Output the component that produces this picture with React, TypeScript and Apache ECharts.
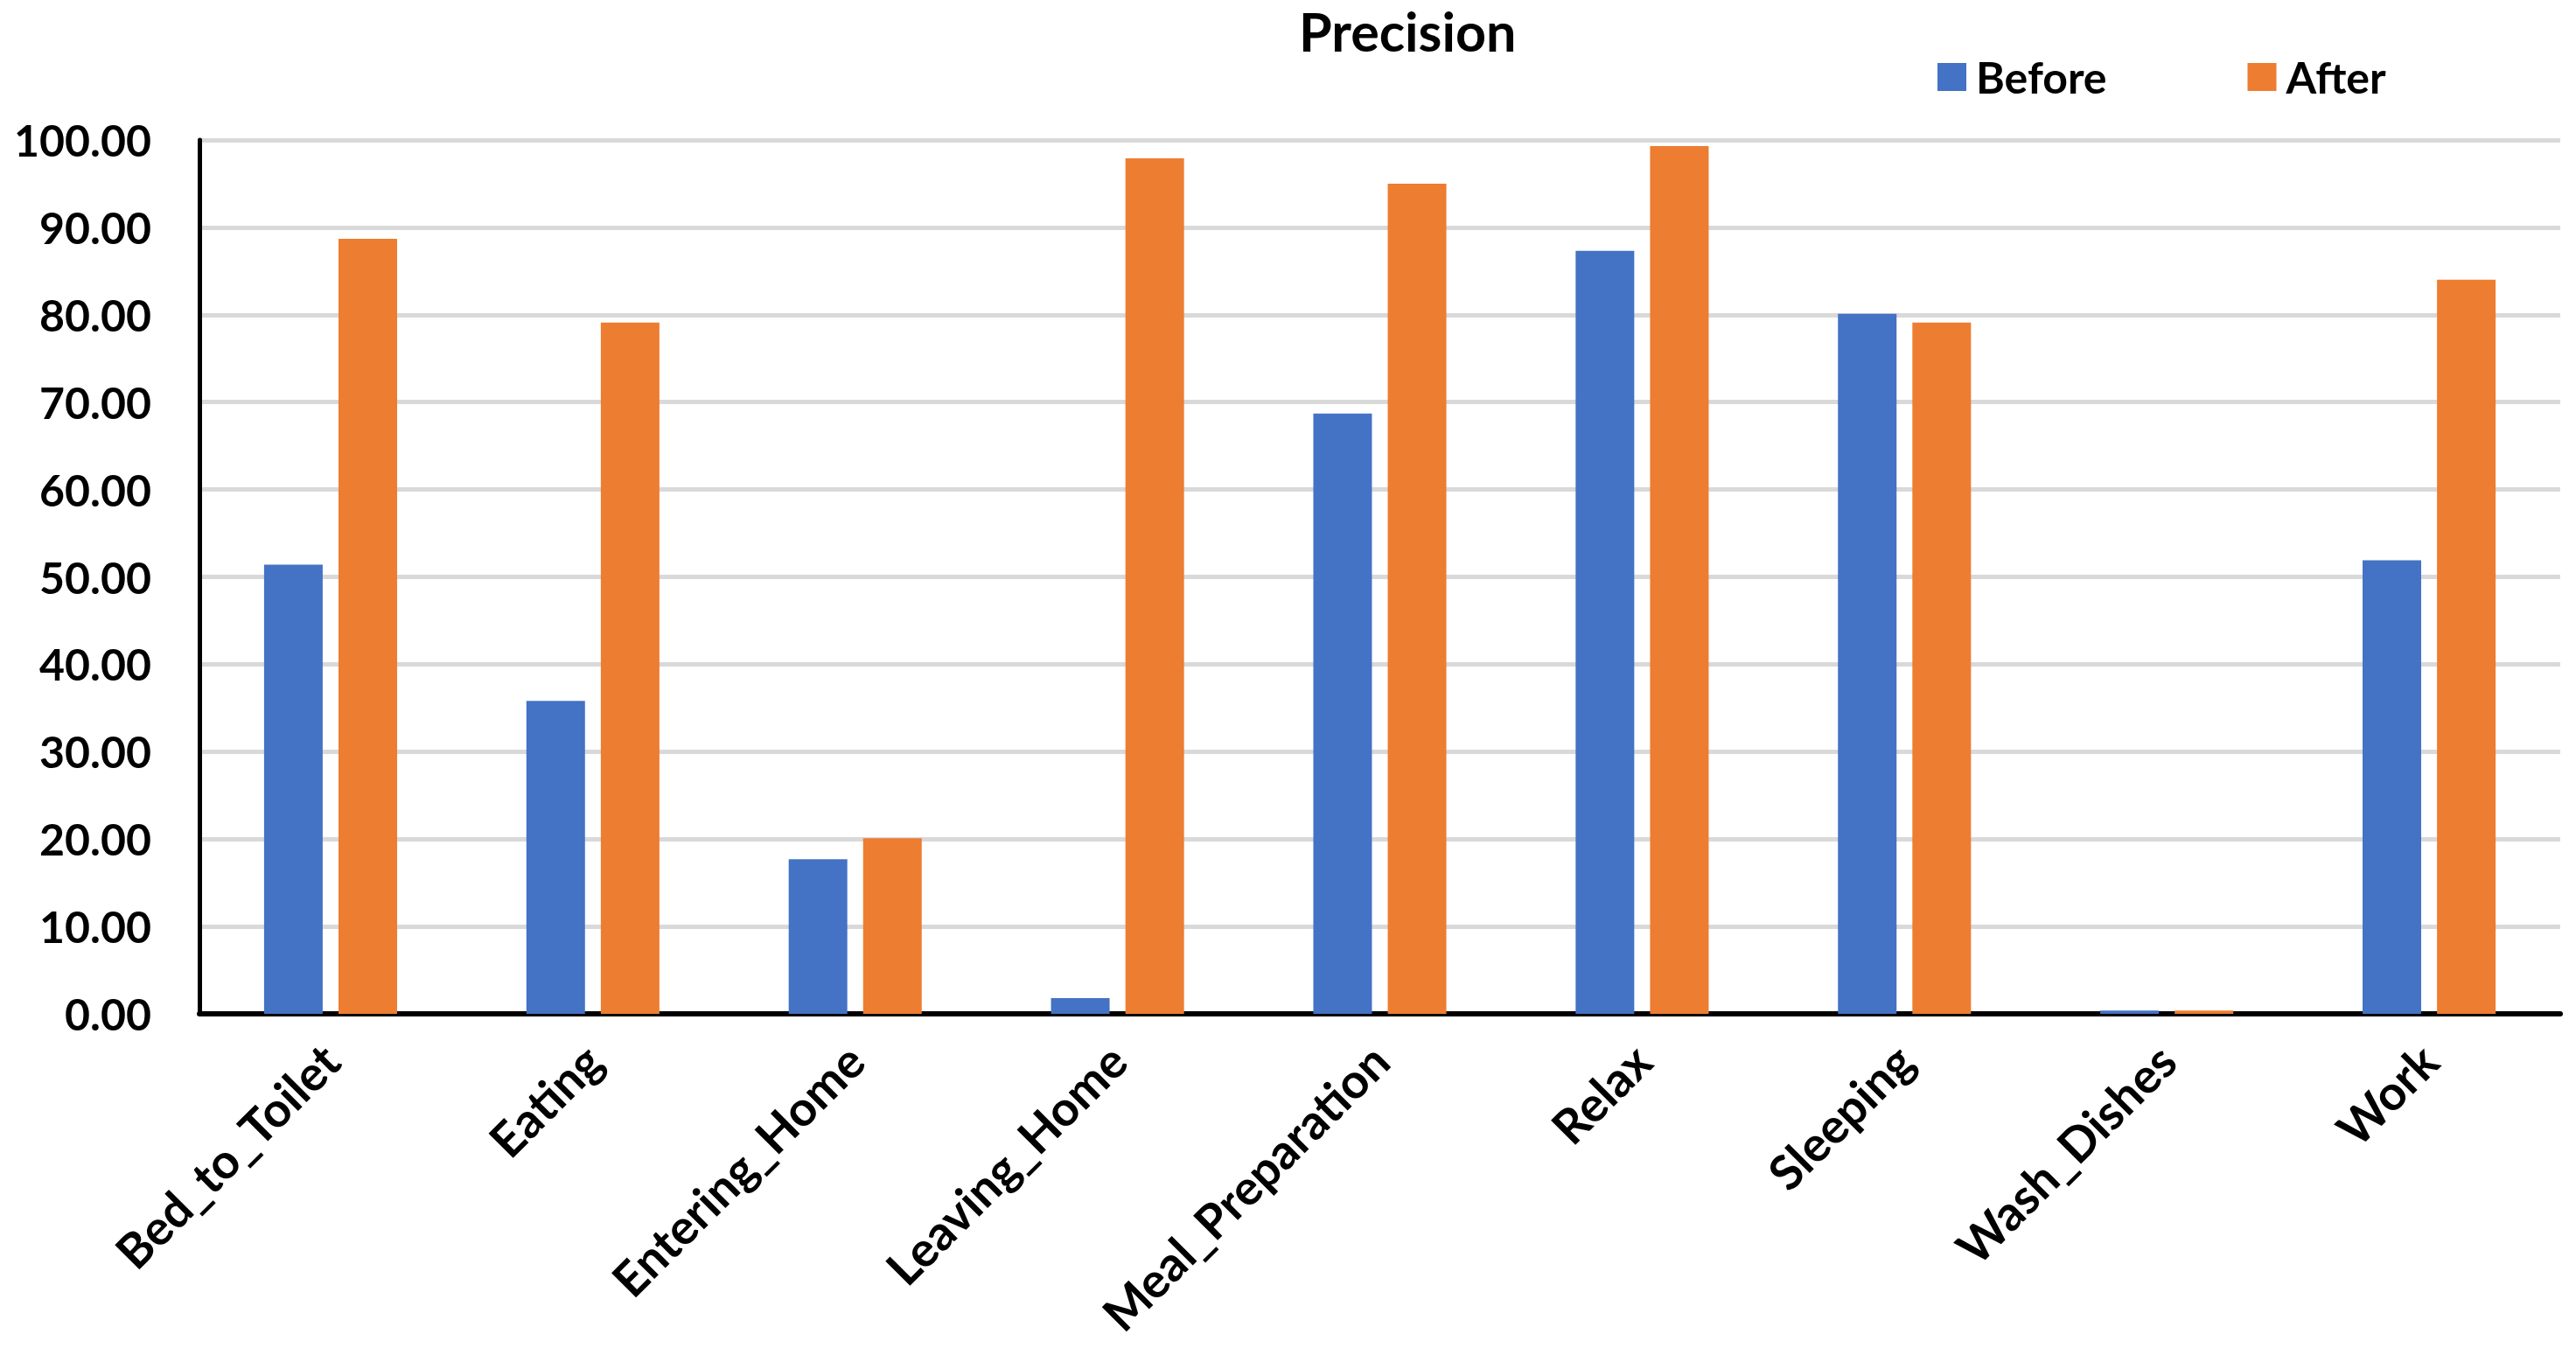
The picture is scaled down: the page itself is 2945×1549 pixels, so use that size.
import React, { useEffect, useRef } from "react";
import * as echarts from "echarts";

const categories = [
  "Bed_to_Toilet",
  "Eating",
  "Entering_Home",
  "Leaving_Home",
  "Meal_Preparation",
  "Relax",
  "Sleeping",
  "Wash_Dishes",
  "Work",
];
const beforeValues = [51.4, 35.8, 17.7, 1.8, 68.7, 87.3, 80.1, 0.37, 51.9];
const afterValues = [88.7, 79.1, 20.1, 97.9, 95.0, 99.3, 79.1, 0.37, 84.0];
const seriesNames = ["Before", "After"];
const titleText = "Precision";

const FONT = "Lato";

export default function App() {
  const ref = useRef<HTMLDivElement>(null);
  useEffect(() => {
    if (!ref.current) return;
    const chart = echarts.init(ref.current, undefined, { renderer: "svg" });
    chart.setOption({
      animation: false,
      backgroundColor: "#ffffff",
      title: {
        text: titleText,
        left: 1480,
        top: 0,
        textStyle: { fontFamily: FONT, fontWeight: "bold", fontSize: 61, color: "#000" },
      },
      legend: {
        data: seriesNames,
        left: 2210,
        top: 58,
        itemWidth: 33,
        itemHeight: 32,
        itemGap: 161,
        icon: "rect",
        textStyle: { fontFamily: FONT, fontWeight: "bold", fontSize: 50, color: "#000", padding: [0, 0, 0, 6] },
      },
      grid: { left: 228, right: 18, top: 160, bottom: 390, containLabel: false },
      xAxis: {
        type: "category",
        data: categories,
        axisLine: { show: true, lineStyle: { color: "#000", width: 6 } },
        axisTick: { show: false },
        axisLabel: {
          rotate: 45,
          interval: 0,
          margin: 44,
          fontFamily: FONT,
          fontWeight: "bold",
          fontSize: 55,
          color: "#000",
        },
        splitLine: { show: false },
      },
      yAxis: {
        type: "value",
        min: 0,
        max: 100,
        interval: 10,
        axisLine: { show: true, lineStyle: { color: "#000", width: 5 } },
        axisTick: { show: false },
        axisLabel: {
          margin: 55,
          fontFamily: FONT,
          fontWeight: "bold",
          fontSize: 50,
          color: "#000",
          formatter: (v: number) => v.toFixed(2),
        },
        splitLine: { show: true, lineStyle: { color: "#d9d9d9", width: 5 } },
      },
      series: [
        {
          name: seriesNames[0],
          type: "bar",
          data: beforeValues,
          barWidth: 67,
          barGap: "27%",
          itemStyle: { color: "#4472C4" },
        },
        {
          name: seriesNames[1],
          type: "bar",
          data: afterValues,
          barWidth: 67,
          barGap: "27%",
          itemStyle: { color: "#ED7D31" },
        },
      ],
    });
    return () => chart.dispose();
  }, []);
  return (
    <div
      ref={ref}
      style={{ position: "fixed", left: 0, top: 0, width: 2945, height: 1549 }}
    />
  );
}
